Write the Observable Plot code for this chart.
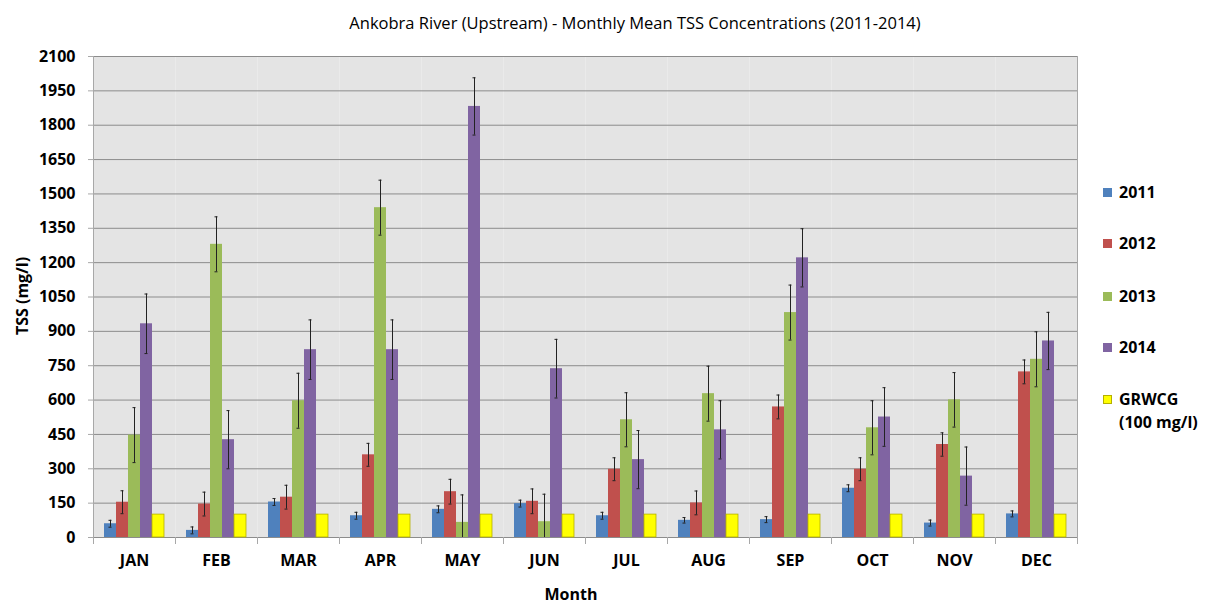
<!DOCTYPE html>
<html>
<head>
<meta charset="utf-8">
<script src="https://cdn.jsdelivr.net/npm/d3@7"></script>
<script src="https://cdn.jsdelivr.net/npm/@observablehq/plot@0.6"></script>
<style>
  html, body { margin: 0; padding: 0; background: #fff; }
  #wrap { position: relative; width: 1208px; height: 604px; font-family: "Open Sans", sans-serif; color: #000; overflow: hidden; }
  #title { position: absolute; left: 0; width: 1270px; top: 11px; text-align: center; font-size: 16.5px; }
  #chart { position: absolute; left: 0; top: 40px; }
  .lab { position: absolute; font-weight: bold; font-size: 16px; white-space: nowrap; }
  #ylab { left: 22px; top: 296px; transform: translate(-50%, -50%) rotate(-90deg); }
  #xlab { left: 571px; top: 594px; transform: translate(-50%, -50%); }
  .leg { position: absolute; left: 1103px; font-weight: bold; font-size: 16px; line-height: 23px; }
  .leg span.sw { position: absolute; left: 0; top: 7px; width: 9px; height: 9px; }
  .leg span.tx { position: absolute; left: 16px; top: 0; white-space: nowrap; }
</style>
</head>
<body>
<div id="wrap">
  <div id="title">Ankobra River (Upstream) - Monthly Mean TSS Concentrations (2011-2014)</div>
  <div id="chart"></div>
  <div class="lab" id="ylab">TSS (mg/l)</div>
  <div class="lab" id="xlab">Month</div>
  <div id="legend"></div>
</div>
<script>
const months = ["JAN","FEB","MAR","APR","MAY","JUN","JUL","AUG","SEP","OCT","NOV","DEC"];
const series = ["2011","2012","2013","2014","GRWCG"];
const seriesLabels = ["2011","2012","2013","2014","GRWCG<br>(100 mg/l)"];
const colors = ["#4F81BD","#C0504D","#9BBB59","#8064A2","#FFFF00"];

const tss2011 = [60, 31, 155, 95, 123, 148, 95, 75, 78, 215, 63, 103];
const err2011 = [15, 15, 15, 15, 15, 15, 15, 12, 13, 15, 13, 13];
const tss2012 = [154, 146, 176, 361, 200, 158, 298, 151, 570, 298, 406, 723];
const err2012 = [50, 52, 52, 50, 54, 54, 50, 52, 52, 50, 51, 52];
const tss2013 = [447, 1280, 597, 1440, 66, 69, 514, 628, 982, 479, 601, 778];
const err2013 = [120, 120, 120, 120, 120, 120, 118, 120, 120, 118, 119, 120];
const tss2014 = [933, 427, 820, 820, 1882, 737, 340, 470, 1221, 526, 268, 858];
const err2014 = [130, 127, 130, 130, 125, 128, 127, 127, 127, 128, 127, 125];
const grwcg = [100, 100, 100, 100, 100, 100, 100, 100, 100, 100, 100, 100];

const yTicks = [0,150,300,450,600,750,900,1050,1200,1350,1500,1650,1800,1950,2100];

const valueSets = [tss2011, tss2012, tss2013, tss2014, grwcg];
const errSets = [err2011, err2012, err2013, err2014, null];

const rows = [];
months.forEach((m, i) => {
  series.forEach((s, j) => {
    rows.push({month: m, series: s, value: valueSets[j][i], err: errSets[j] ? errSets[j][i] : null});
  });
});
const errRows = rows.filter(d => d.err != null).map(d => ({...d, lo: Math.max(0, d.value - d.err), hi: d.value + d.err}));

const W = 1208, H = 564, mT = 16, mB = 67, mL = 91, mR = 130;
const innerH = H - mT - mB;
const gridColor = "#8c8c8c";
const borderColor = "#a8a8a8";

const chart = Plot.plot({
  width: W, height: H,
  marginTop: mT, marginBottom: mB, marginLeft: mL, marginRight: mR,
  style: {fontFamily: "Open Sans, sans-serif", fontSize: "16px", fontWeight: "bold", color: "#000", background: "transparent"},
  fx: {domain: months, padding: 0, label: null},
  x: {domain: series, paddingInner: 0, paddingOuter: 0.75, axis: null},
  y: {domain: [0, 2100], label: null},
  color: {domain: series, range: colors},
  marks: [
    Plot.frame({fill: "#e4e4e4", stroke: null}),
    Plot.gridY(yTicks, {stroke: gridColor, strokeOpacity: 1, strokeWidth: 1}),
    Plot.frame({anchor: "left", stroke: borderColor, facetAnchor: "left"}),
    Plot.frame({anchor: "right", stroke: borderColor, facetAnchor: "right"}),
    Plot.frame({anchor: "left", stroke: borderColor, insetTop: innerH, insetBottom: -6}),
    Plot.frame({anchor: "right", stroke: borderColor, insetTop: innerH, insetBottom: -6, facetAnchor: "right"}),
    Plot.barY(rows, {fx: "month", x: "series", y: "value", fill: "series"}),
    Plot.barY(rows.filter(d => d.series === "GRWCG"), {fx: "month", x: "series", y: "value", fill: "series", stroke: "#b5b000", strokeWidth: 0.8}),
    Plot.ruleX(errRows, {fx: "month", x: "series", y1: "lo", y2: "hi", stroke: "#222", strokeWidth: 1}),
    Plot.tickY(errRows, {fx: "month", x: "series", y: "hi", stroke: "#222", strokeWidth: 1, insetLeft: 4.5, insetRight: 4.5}),
    Plot.tickY(errRows.filter(d => d.value - d.err > 0), {fx: "month", x: "series", y: "lo", stroke: "#222", strokeWidth: 1, insetLeft: 4.5, insetRight: 4.5}),
    Plot.axisY(yTicks, {tickSize: 5, tickPadding: 13, stroke: borderColor, label: null, fill: "#000", tickFormat: d => String(d)}),
    Plot.axisFx({anchor: "bottom", tickSize: 0, tickPadding: 17, label: null})
  ]
});
document.getElementById("chart").appendChild(chart);

const legend = document.getElementById("legend");
const legY = [181, 232, 285, 336, 388];
series.forEach((s, j) => {
  const d = document.createElement("div");
  d.className = "leg";
  d.style.top = legY[j] + "px";
  d.innerHTML = `<span class="sw" style="background:${colors[j]};${s === "GRWCG" ? "outline:1px solid #b5b000;outline-offset:-1px;" : ""}"></span><span class="tx">${seriesLabels[j]}</span>`;
  legend.appendChild(d);
});
</script>
</body>
</html>
